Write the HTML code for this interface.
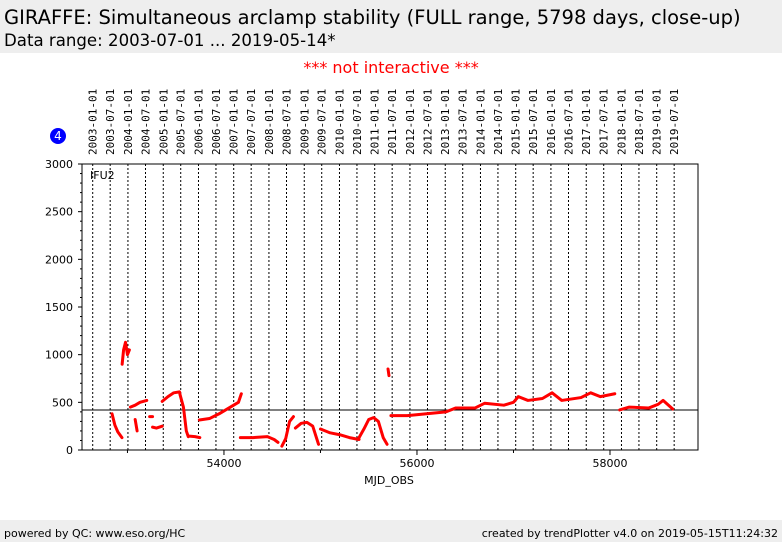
<!DOCTYPE html>
<html><head><meta charset="utf-8"><style>
body{margin:0;width:782px;height:542px;background:#fff;font-family:"DejaVu Sans",sans-serif;overflow:hidden;position:relative}
.hdr{position:absolute;left:0;top:0;width:782px;height:53px;background:#eee}
.t1{position:absolute;left:4px;top:6px;font-size:19.5px}
.t2{position:absolute;left:4px;top:31px;font-size:16.6px}
.ni{position:absolute;left:0;width:782px;top:58px;text-align:center;color:#f00;font-size:16px}
.ftr{position:absolute;left:0;top:520px;width:782px;height:22px;background:#eee;font-size:11px}
</style></head><body>
<div class="hdr">
<div class="t1">GIRAFFE: Simultaneous arclamp stability (FULL range, 5798 days, close-up)</div>
<div class="t2">Data range: 2003-07-01 ... 2019-05-14*</div></div>
<div class="ni">*** not interactive ***</div>
<svg id="c" width="782" height="520" style="position:absolute;left:0;top:0;font-family:'DejaVu Sans',sans-serif"></svg>
<div class="ftr"><span style="position:absolute;left:4px;top:7px">powered by QC: www.eso.org/HC</span><span style="position:absolute;right:4px;top:7px">created by trendPlotter v4.0 on 2019-05-15T11:24:32</span></div>
<script>
const xMin=52529,xMax=58912,yMin=0,yMax=3000;
const xTicks=[54000,56000,58000];
const xMinorTicks=[53000,55000,57000];
const yTicks=[0,500,1000,1500,2000,2500,3000];
const refValue=420;
const seriesSegments=[
[[52840,380],[52870,260],[52900,190],[52943,130]],
[[52945,900],[52960,1050],[52980,1130],[53000,1000],[53020,1050]],
[[53030,450],[53080,470],[53130,500],[53200,520]],
[[53080,320],[53100,200]],
[[53230,350],[53260,350]],
[[53260,240],[53300,230],[53360,250]],
[[53360,510],[53420,560],[53480,600],[53540,610],[53545,580],[53580,450],[53610,200],[53630,140]],
[[53640,145],[53700,140],[53750,130]],
[[53745,315],[53850,330],[53950,380],[54050,440],[54150,500],[54180,590]],
[[54170,130],[54300,130],[54450,140],[54520,110],[54560,80]],
[[54600,40],[54640,120],[54680,300],[54720,350]],
[[54740,230],[54800,280],[54860,290],[54920,250],[54980,60]],
[[55000,220],[55100,180],[55200,160],[55300,130],[55400,110]],
[[55400,130],[55450,220],[55500,320],[55550,340],[55600,300],[55650,130],[55690,60]],
[[55700,850],[55710,780]],
[[55730,360],[55900,360],[56100,380],[56300,400],[56400,440],[56600,440],[56700,490],[56900,470],[57000,500],[57050,560],[57150,520],[57300,540],[57400,600],[57500,520],[57700,550],[57800,600],[57900,560],[58050,590]],
[[58100,420],[58200,450],[58400,440],[58500,480],[58550,520],[58650,430]]
];
const L=82,R=698,T=164,B=450;
const sx=v=>L+(v-xMin)/(xMax-xMin)*(R-L);
const sy=v=>B-(v-yMin)/(yMax-yMin)*(B-T);
const svg=document.getElementById('c');const NS='http://www.w3.org/2000/svg';
function mk(t,a,p){const e=document.createElementNS(NS,t);for(const k in a)e.setAttribute(k,a[k]);(p||svg).appendChild(e);return e;}
const mjd0=Date.UTC(1858,10,17);
for(let y=2003;y<=2019;y++){for(const m of [0,6]){
 const d=(Date.UTC(y,m,1)-mjd0)/86400000;const x=sx(d);
 const ln=mk('line',{x1:x,x2:x,y1:T,y2:B,stroke:'#000','stroke-width':1,'stroke-dasharray':'2,2'});
 
 
 const lab=(y+'-'+(m?'07':'01')+'-01');
 const tx=mk('text',{x:x+4,y:155,transform:`rotate(-90 ${x+4} 155)`,'font-size':11,'font-family':'DejaVu Sans Mono,monospace'});
 tx.textContent=lab;
 
 
}}
const fr=mk('rect',{x:L,y:T,width:R-L,height:B-T,fill:'none',stroke:'#000'});


yTicks.forEach(v=>{const y=sy(v);mk('line',{x1:L-4,x2:L,y1:y,y2:y,stroke:'#000'});
 const t=mk('text',{x:L-9,y:y+4,'font-size':11,'text-anchor':'end'});t.textContent=v;
 
 
 if(v<3000)for(let k=1;k<5;k++){const yy=sy(v+k*100);mk('line',{x1:L-2,x2:L,y1:yy,y2:yy,stroke:'#000'});}});
xTicks.forEach(v=>{const x=sx(v);mk('line',{x1:x,x2:x,y1:B,y2:B+5,stroke:'#000'});
 const t=mk('text',{x:x,y:B+17,'font-size':11,'text-anchor':'middle'});t.textContent=v;
 
 });
xMinorTicks.forEach(v=>{const x=sx(v);mk('line',{x1:x,x2:x,y1:B,y2:B+3,stroke:'#000'});});
const rl=mk('line',{x1:L,x2:R,y1:sy(refValue),y2:sy(refValue),stroke:'#000','stroke-width':1});


seriesSegments.forEach(seg=>{const p=mk('polyline',{points:seg.map(d=>sx(d[0])+','+sy(d[1])).join(' '),fill:'none',stroke:'#f00','stroke-width':3,'stroke-linejoin':'round','stroke-linecap':'round'});
 
 });
const lb=mk('text',{x:90,y:179,'font-size':11});lb.textContent='IFU2';


const xt=mk('text',{x:(L+R)/2-1,y:484,'font-size':11,'text-anchor':'middle'});xt.textContent='MJD_OBS';


const c=mk('circle',{cx:58,cy:136,r:8,fill:'#00f'});


const ct=mk('text',{x:58,y:140,'font-size':12,fill:'#fff','text-anchor':'middle'});ct.textContent='4';


</script></body></html>
